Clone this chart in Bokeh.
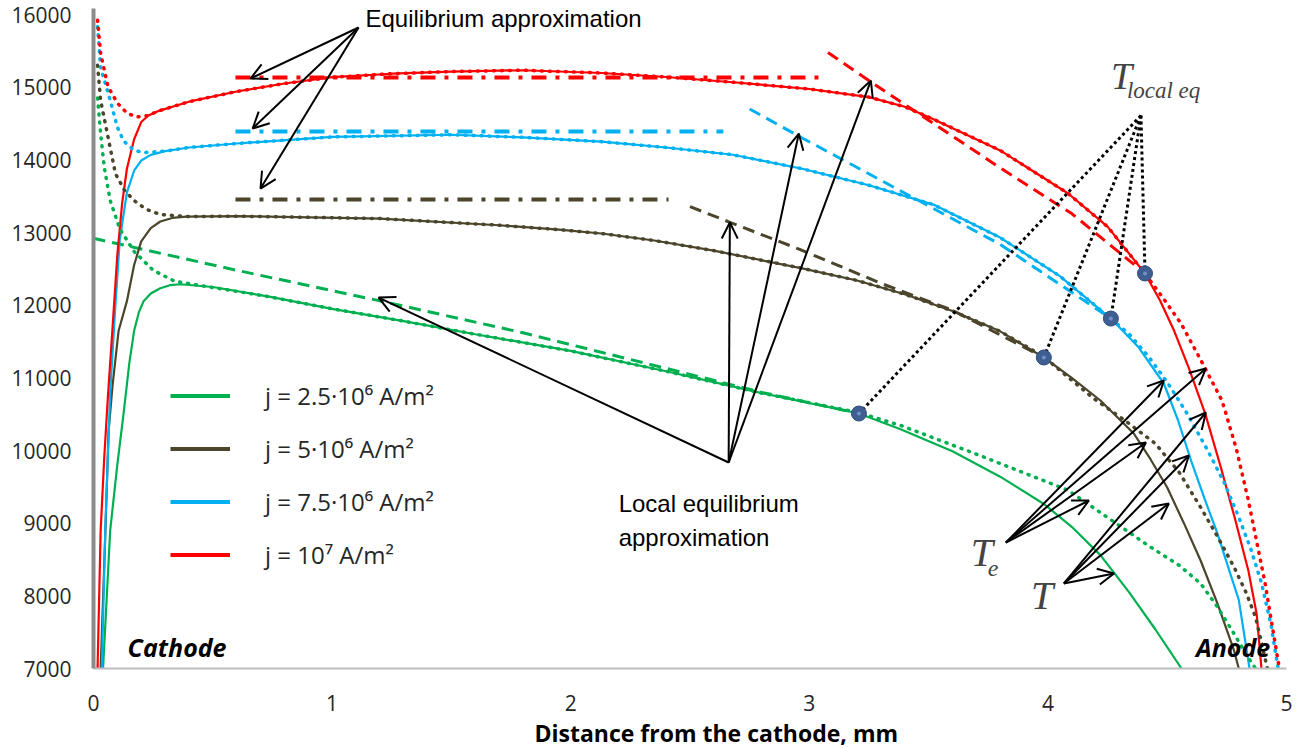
from bokeh.plotting import figure
from bokeh.models import (Range1d, FixedTicker, Label, Arrow, OpenHead, Title,
                          ColumnDataSource, Legend, LegendItem)
from bokeh.embed import file_html
from bokeh.resources import INLINE

# ---------------- data ----------------
x_ticks = [0, 1, 2, 3, 4, 5]
y_ticks = [7000, 8000, 9000, 10000, 11000, 12000, 13000, 14000, 15000, 16000]

legend_labels = ["j = 2.5·10⁶ A/m²", "j = 5·10⁶ A/m²", "j = 7.5·10⁶ A/m²", "j = 10⁷ A/m²"]

# electron temperature Te (solid)
te_g_x = [0.04, 0.07, 0.10, 0.126, 0.15, 0.17, 0.19, 0.21, 0.24, 0.28, 0.32, 0.365, 0.5, 0.73, 1.0, 1.3, 1.6, 2.0, 2.4, 2.8, 3.208, 3.385, 3.6, 3.8, 3.985, 4.1, 4.22, 4.34, 4.45, 4.56]
te_g_y = [7000, 8900, 9810, 10507, 11200, 11644, 11900, 12055, 12160, 12233, 12275, 12288, 12250, 12120, 11950, 11780, 11600, 11370, 11090, 10790, 10509, 10290, 9990, 9640, 9260, 8950, 8560, 8050, 7540, 7000]

te_d_x = [0.03, 0.05, 0.063, 0.08, 0.105, 0.14, 0.17, 0.2, 0.24, 0.28, 0.33, 0.39, 0.6, 1.2, 1.7, 1.95, 2.13, 2.35, 2.6, 2.97, 3.2, 3.4, 3.6, 3.8, 3.983, 4.1, 4.22, 4.36, 4.43, 4.50, 4.57, 4.64, 4.71, 4.78, 4.80]
te_d_y = [7000, 8900, 10260, 10900, 11644, 12055, 12550, 12877, 13060, 13151, 13200, 13219, 13225, 13192, 13100, 13040, 12986, 12890, 12750, 12507, 12340, 12150, 11920, 11640, 11280, 11000, 10688, 10234, 9880, 9490, 9000, 8486, 7900, 7248, 7000]

te_b_x = [0.035, 0.05, 0.07, 0.09, 0.11, 0.14, 0.17, 0.2, 0.24, 0.3, 0.4, 0.6, 1.0, 1.5, 1.8, 2.13, 2.4, 2.68, 2.97, 3.25, 3.52, 3.8, 4.05, 4.264, 4.38, 4.486, 4.545, 4.60, 4.655, 4.71, 4.76, 4.80, 4.845]
te_b_y = [7000, 9000, 10800, 11900, 12900, 13550, 13850, 13990, 14068, 14120, 14170, 14225, 14315, 14345, 14310, 14250, 14170, 14070, 13877, 13650, 13384, 12930, 12400, 11816, 11420, 10922, 10420, 9862, 9350, 8863, 8350, 7945, 7000]

te_r_x = [0.017, 0.03, 0.045, 0.06, 0.08, 0.1, 0.12, 0.14, 0.17, 0.2, 0.23, 0.27, 0.4, 0.6, 0.8, 1.0, 1.25, 1.5, 1.8, 2.13, 2.4, 2.68, 3.0, 3.25, 3.4, 3.52, 3.8, 4.085, 4.25, 4.407, 4.47, 4.53, 4.59, 4.66, 4.725, 4.785, 4.84, 4.875, 4.895]
te_r_y = [7000, 8900, 9900, 10720, 11700, 12700, 13400, 13877, 14280, 14520, 14610, 14670, 14800, 14940, 15050, 15137, 15185, 15215, 15233, 15195, 15140, 15068, 14975, 14863, 14730, 14560, 14130, 13537, 13080, 12436, 12064, 11640, 11140, 10500, 9766, 9050, 8350, 7750, 7000]

# heavy particle temperature T (dotted)
t_g_x = [0.017, 0.03, 0.045, 0.07, 0.11, 0.17, 0.25, 0.34, 0.45, 0.73, 1.0, 1.3, 1.6, 2.0, 2.4, 2.8, 3.208, 3.385, 3.7, 4.085, 4.43, 4.55, 4.64, 4.71, 4.78, 4.83, 4.87]
t_g_y = [14850, 14360, 13900, 13440, 13050, 12740, 12480, 12329, 12270, 12120, 11950, 11780, 11600, 11370, 11090, 10790, 10520, 10342, 9950, 9452, 8671, 8420, 8170, 7850, 7480, 7200, 7000]

t_d_x = [0.017, 0.03, 0.058, 0.092, 0.13, 0.17, 0.22, 0.28, 0.4, 0.6, 1.2, 1.7, 1.95, 2.13, 2.35, 2.6, 2.97, 3.2, 3.4, 3.6, 3.8, 3.983, 4.19, 4.32, 4.45, 4.55, 4.64, 4.71, 4.78, 4.83, 4.87, 4.92]
t_d_y = [15300, 14816, 14360, 13810, 13580, 13440, 13320, 13247, 13219, 13225, 13192, 13100, 13040, 12986, 12890, 12750, 12507, 12340, 12150, 11920, 11640, 11290, 10720, 10420, 10096, 9700, 9219, 8820, 8397, 8050, 7712, 7000]

t_b_x = [0.017, 0.03, 0.07, 0.1, 0.126, 0.17, 0.21, 0.3, 0.4, 0.6, 1.0, 1.5, 1.8, 2.13, 2.4, 2.68, 2.97, 3.25, 3.52, 3.8, 4.05, 4.264, 4.34, 4.42, 4.50, 4.585, 4.67, 4.74, 4.80, 4.85, 4.895, 4.935, 4.965]
t_b_y = [15830, 15270, 14820, 14450, 14260, 14130, 14100, 14120, 14170, 14225, 14315, 14345, 14310, 14250, 14170, 14070, 13877, 13650, 13384, 12930, 12400, 11816, 11603, 11300, 10940, 10500, 10000, 9550, 9082, 8650, 8178, 7600, 7000]

t_r_x = [0.017, 0.03, 0.06, 0.1, 0.14, 0.18, 0.23, 0.27, 0.4, 0.6, 0.8, 1.0, 1.25, 1.5, 1.8, 2.13, 2.4, 2.68, 3.0, 3.25, 3.4, 3.52, 3.8, 4.085, 4.25, 4.407, 4.48, 4.558, 4.64, 4.73, 4.79, 4.84, 4.91, 4.97]
t_r_y = [15920, 15466, 15014, 14781, 14644, 14589, 14610, 14670, 14800, 14940, 15050, 15137, 15185, 15215, 15233, 15195, 15140, 15068, 14975, 14863, 14730, 14560, 14130, 13537, 13080, 12436, 12110, 11747, 11250, 10685, 10020, 9315, 8178, 7000]

# equilibrium approximation (dash-dot)
eq_r_x = [0.595, 3.04]
eq_r_y = [15133, 15133]
eq_b_x = [0.595, 2.64]
eq_b_y = [14390, 14390]
eq_d_x = [0.595, 2.41]
eq_d_y = [13454, 13454]

# local equilibrium approximation (dashed)
le_g_x = [0.0, 0.6, 1.2, 1.8, 2.4, 2.8, 3.208]
le_g_y = [12920, 12480, 12060, 11620, 11130, 10800, 10509]
le_d_x = [2.50, 2.67, 2.96, 3.31, 3.6, 3.983]
le_d_y = [13356, 13137, 12767, 12288, 11930, 11280]
le_b_x = [2.75, 2.97, 3.8, 4.264]
le_b_y = [14700, 14301, 12836, 11816]
le_r_x = [3.078, 3.26, 3.8, 4.1, 4.407]
le_r_y = [15477, 15068, 13890, 13260, 12436]

# T local eq points
tle_x = [3.208, 3.983, 4.264, 4.407]
tle_y = [10509, 11280, 11816, 12436]

GREEN = "#00B050"
DARK = "#4A452B"
BLUE = "#00B0F0"
RED = "#FF0000"

# ---------------- figure ----------------
Y_LOW, Y_HIGH = 7000, 16000
FRAME_H = 660
y_top = Y_HIGH + 6 * (Y_HIGH - Y_LOW) / 654   # axis line runs a few px above the 16000 tick

p = figure(frame_width=1193, frame_height=FRAME_H,
           x_range=Range1d(0, 5), y_range=Range1d(Y_LOW, y_top),
           output_backend="svg", toolbar_location=None,
           min_border_left=93, min_border_right=16,
           min_border_top=8, min_border_bottom=72)
p.xgrid.visible = False
p.ygrid.visible = False
p.outline_line_color = None
p.background_fill_color = "white"

p.yaxis.ticker = FixedTicker(ticks=y_ticks)
p.yaxis.axis_line_width = 4
p.yaxis.axis_line_color = "#8C8C8C"
p.yaxis.major_tick_line_color = None
p.yaxis.minor_tick_line_color = None
p.yaxis.major_label_text_font = "Open Sans"
p.yaxis.major_label_text_font_size = "21px"
p.yaxis.major_label_text_color = "#262626"
p.yaxis.major_label_standoff = 16

p.xaxis.ticker = FixedTicker(ticks=x_ticks)
p.xaxis.axis_line_width = 2
p.xaxis.axis_line_color = "#BDBDBD"
p.xaxis.major_tick_line_color = None
p.xaxis.minor_tick_line_color = None
p.xaxis.major_label_text_font = "Open Sans"
p.xaxis.major_label_text_font_size = "21px"
p.xaxis.major_label_text_color = "#262626"
p.xaxis.major_label_standoff = 20

p.add_layout(Title(text="Distance from the cathode, mm", align="left", offset=441,
                   text_font="Open Sans", text_font_style="bold",
                   text_font_size="23px", text_color="black", standoff=2), "below")

DOT = dict(line_dash="1 7", line_width=3.5, line_cap="round")
DASH = dict(line_dash="12 7", line_width=3)
DASHDOT = dict(line_dash="15 9 4 9", line_width=4)
SOLID = dict(line_width=2.2)

# dash-dot equilibrium
p.line(eq_r_x, eq_r_y, line_color=RED, **DASHDOT)
p.line(eq_b_x, eq_b_y, line_color=BLUE, **DASHDOT)
p.line(eq_d_x, eq_d_y, line_color=DARK, **DASHDOT)

# dashed local equilibrium
p.line(le_g_x, le_g_y, line_color=GREEN, **DASH)
p.line(le_d_x, le_d_y, line_color=DARK, **DASH)
p.line(le_b_x, le_b_y, line_color=BLUE, **DASH)
p.line(le_r_x, le_r_y, line_color=RED, **DASH)

# solid Te
p.line(te_g_x, te_g_y, line_color=GREEN, **SOLID)
p.line(te_d_x, te_d_y, line_color=DARK, **SOLID)
p.line(te_b_x, te_b_y, line_color=BLUE, **SOLID)
p.line(te_r_x, te_r_y, line_color=RED, **SOLID)

# dotted T
p.line(t_g_x, t_g_y, line_color=GREEN, **DOT)
p.line(t_d_x, t_d_y, line_color=DARK, **DOT)
p.line(t_b_x, t_b_y, line_color=BLUE, **DOT)
p.line(t_r_x, t_r_y, line_color=RED, **DOT)

# T local eq dotted pointers
p.segment(x0=[4.39] * 4, y0=[14610] * 4, x1=tle_x, y1=tle_y,
          line_color="black", line_width=3, line_dash="3 3")
p.scatter(tle_x, tle_y, size=15, fill_color="#3F5F92", line_color="#2F4B7A", line_width=1)
p.scatter(tle_x, tle_y, size=4, fill_color="#6F90C4", line_color=None)

# arrows
arr = ColumnDataSource(dict(
    x0=[1.111, 1.111, 1.111, 2.662, 2.662, 2.662, 2.662,
        3.824, 3.824, 3.824, 3.824, 4.067, 4.067, 4.067, 4.067],
    y0=[15821, 15821, 15821, 9835, 9835, 9835, 9835,
        8734, 8734, 8734, 8734, 8170, 8170, 8170, 8170],
    x1=[0.658, 0.667, 0.700, 1.195, 2.667, 2.956, 3.258,
        4.486, 4.662, 4.411, 4.172, 4.662, 4.591, 4.507, 4.277],
    y1=[15119, 14431, 13605, 12105, 13137, 14362, 15091,
        10963, 11128, 10110, 9312, 10523, 9931, 9271, 8307],
))
p.add_layout(Arrow(source=arr, x_start="x0", y_start="y0", x_end="x1", y_end="y1",
                   line_width=2, line_color="black",
                   end=OpenHead(size=16, line_width=2, line_color="black")))

# legend (swatches drawn off-range, only used as legend keys)
leg_colors = [GREEN, DARK, BLUE, RED]
leg_r = [p.line([-1, -0.5], [7000, 7000], line_color=c, line_width=4) for c in leg_colors]
legend = Legend(items=[LegendItem(label=l, renderers=[r]) for l, r in zip(legend_labels, leg_r)],
                location=(77, 97), orientation="vertical",
                glyph_width=60, glyph_height=33, label_height=33,
                label_standoff=35, spacing=20, padding=0, margin=0,
                border_line_color=None, background_fill_alpha=0,
                label_text_font="Open Sans", label_text_font_size="24px",
                label_text_color="#262626")
p.add_layout(legend)

# texts
SANS = "Liberation Sans"
p.add_layout(Label(x=1.140, y=15945, text="Equilibrium  approximation", text_font=SANS,
                   text_font_size="24px", text_baseline="middle", text_color="black"))
p.add_layout(Label(x=2.201, y=9271, text="Local equilibrium", text_font=SANS,
                   text_font_size="24px", text_baseline="middle", text_color="black"))
p.add_layout(Label(x=2.201, y=8803, text="approximation", text_font=SANS,
                   text_font_size="24px", text_baseline="middle", text_color="black"))
p.add_layout(Label(x=0.143, y=7300, text="Cathode", text_font="Open Sans",
                   text_font_style="bold italic", text_font_size="25px",
                   text_baseline="middle", text_color="black"))
p.add_layout(Label(x=4.621, y=7300, text="Anode", text_font="Open Sans",
                   text_font_style="bold italic", text_font_size="25px",
                   text_baseline="middle", text_color="black"))
SERIF = "Liberation Serif"
p.add_layout(Label(x=3.677, y=8596, text="T", text_font=SERIF, text_font_style="italic",
                   text_font_size="40px", text_baseline="alphabetic"))
p.add_layout(Label(x=3.748, y=8376, text="e", text_font=SERIF, text_font_style="italic",
                   text_font_size="24px", text_baseline="alphabetic"))
p.add_layout(Label(x=3.929, y=8004, text="T", text_font=SERIF, text_font_style="italic",
                   text_font_size="40px", text_baseline="alphabetic"))
p.add_layout(Label(x=4.264, y=15147, text="T", text_font=SERIF, text_font_style="italic",
                   text_font_size="38px", text_baseline="alphabetic"))
p.add_layout(Label(x=4.331, y=14961, text="local eq", text_font=SERIF, text_font_style="italic",
                   text_font_size="23px", text_baseline="alphabetic"))

open("out.html", "w").write(file_html(p, INLINE))
